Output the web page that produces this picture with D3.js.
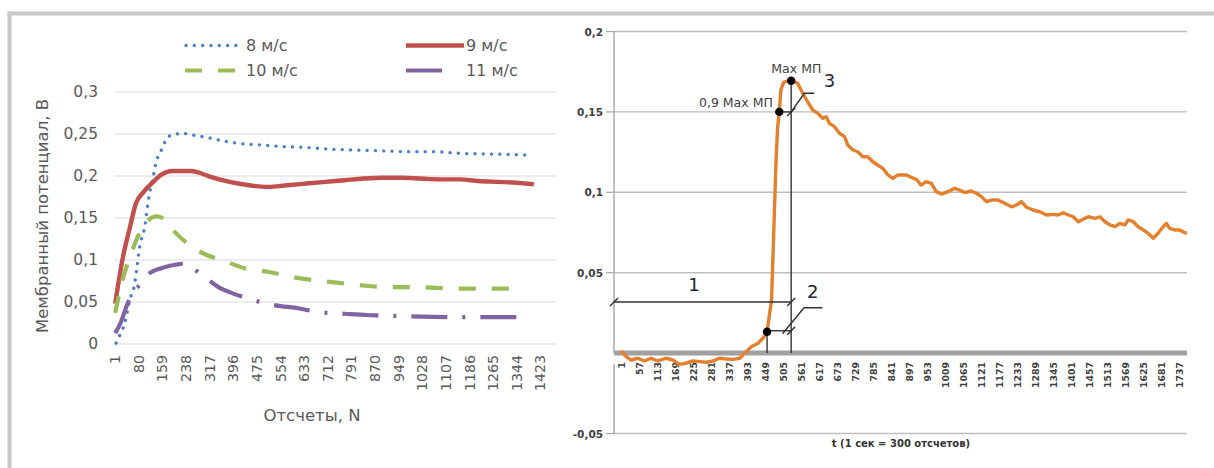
<!DOCTYPE html>
<html><head><meta charset="utf-8">
<script src="https://cdn.jsdelivr.net/npm/d3@7"></script>
<style>html,body{margin:0;padding:0;background:#fff;}svg{display:block;}</style>
</head><body>
<script>
// ---------- Left chart data ----------
const leftXTicks = [1,80,159,238,317,396,475,554,633,712,791,870,949,1028,1107,1186,1265,1344,1423];
const leftYTicks = [0,0.05,0.1,0.15,0.2,0.25,0.3];
const s8N  = [4,12,23,33,51,64,74,83,100,112,128,140,153,164,179,198,224,256,307,358,409,486,563,640,716,793,896,972,1062,1152,1280,1382];
const s8V  = [0.001,0.0075,0.015,0.025,0.054,0.068,0.092,0.116,0.14,0.171,0.199,0.219,0.229,0.238,0.247,0.249,0.251,0.249,0.246,0.242,0.239,0.237,0.235,0.234,0.232,0.231,0.230,0.229,0.229,0.227,0.226,0.225];
const s9N  = [1,25,51,70,96,128,153,192,256,281,320,384,448,512,576,640,704,768,832,896,959,1024,1088,1152,1216,1280,1344,1401];
const s9V  = [0.048,0.1,0.14,0.167,0.181,0.193,0.201,0.206,0.206,0.204,0.199,0.193,0.189,0.187,0.189,0.191,0.193,0.195,0.197,0.198,0.198,0.197,0.196,0.196,0.194,0.193,0.192,0.19];
const s10N = [1,25,51,77,102,140,159,204,256,307,358,435,512,589,665,742,819,896,1024,1152,1369];
const s10V = [0.037,0.076,0.104,0.128,0.144,0.152,0.15,0.132,0.116,0.106,0.1,0.09,0.086,0.08,0.076,0.073,0.07,0.068,0.0675,0.066,0.066];
const s11N = [1,19,38,57,89,115,153,198,236,269,307,345,396,448,486,537,614,678,768,844,896,1024,1152,1363];
const s11V = [0.013,0.025,0.044,0.06,0.072,0.084,0.09,0.094,0.096,0.088,0.078,0.068,0.06,0.054,0.05,0.046,0.0425,0.038,0.036,0.0345,0.034,0.0325,0.032,0.032];
const seriesNames = ["8 м/с","9 м/с","10 м/с","11 м/с"];
const leftYTitle = "Мембранный потенциал, В";
const leftXTitle = "Отсчеты, N";

// ---------- Right chart data ----------
const rightXTicks = [1,57,113,169,225,281,337,393,449,505,561,617,673,729,785,841,897,953,1009,1065,1121,1177,1233,1289,1345,1401,1457,1513,1569,1625,1681,1737];
const rightYTicks = [-0.05,0.05,0.1,0.15,0.2];
const mpN = [1,17,32,53,74,94,115,141,162,183,203,224,245,266,287,307,328,349,370,390,406,427,442,455,469,478,483,488,493,498,506,519,530,550,566,581,597,613,628,639,649,665,680,696,706,722,737,753,768,784,799,815,831,846,862,888,903,919,934,950,966,981,997,1018,1038,1054,1070,1090,1106,1122,1137,1153,1173,1194,1215,1231,1246,1262,1282,1303,1324,1345,1360,1376,1392,1407,1423,1438,1454,1475,1490,1506,1521,1537,1552,1568,1578,1594,1609,1625,1640,1656,1671,1687,1697,1707,1723,1738,1754,1761];
const mpV = [0.0013,-0.0022,-0.0043,-0.0032,-0.0049,-0.0032,-0.0049,-0.0032,-0.0043,-0.007,-0.0063,-0.0049,-0.0053,-0.0057,-0.0049,-0.0032,-0.0037,-0.0039,-0.0032,0.0009,0.004,0.0061,0.0092,0.0133,0.033,0.089,0.12,0.1408,0.1498,0.1636,0.1682,0.1694,0.1694,0.1678,0.1616,0.1563,0.1512,0.1491,0.146,0.147,0.1429,0.1408,0.1367,0.1346,0.1294,0.1263,0.1252,0.1221,0.1221,0.119,0.117,0.1149,0.1108,0.1087,0.1108,0.1108,0.1093,0.1081,0.1045,0.1066,0.1056,0.1004,0.0989,0.1004,0.1025,0.1014,0.0998,0.1008,0.0994,0.0973,0.0942,0.0952,0.0952,0.0932,0.091,0.0921,0.0942,0.0907,0.089,0.0879,0.0859,0.0863,0.0859,0.0873,0.0859,0.0848,0.0817,0.0832,0.0848,0.0838,0.0848,0.0817,0.0797,0.0786,0.0807,0.0797,0.0828,0.0817,0.0786,0.0766,0.0745,0.0714,0.0745,0.0786,0.0807,0.0776,0.0766,0.0766,0.0749,0.0745];
const rightXTitle = "t (1 сек = 300 отсчетов)";
// annotation points [N, value]
const ptMax = [530,0.1694];
const pt09 = [493,0.15];
const ptStart = [455,0.0133];
const dim1 = [[-21,0.0318],[530,0.0318]];
const dim2 = [[455,0.0139],[530,0.0139]];
const lead3 = [[530,0.15],[571,0.1616],[602,0.1616]];
const lead2 = [[503,0.012],[570,0.0282],[627,0.0282]];
const annLabels = [
  {t:"Max МП", n:546, v:0.1773, anchor:"middle", size:12.5},
  {t:"0,9 Max МП", n:473, v:0.1557, anchor:"end", size:12.5},
  {t:"3", n:649, v:0.1698, anchor:"middle", size:18},
  {t:"1", n:228, v:0.0424, anchor:"middle", size:18},
  {t:"2", n:597, v:0.0382, anchor:"middle", size:18}
];

const W = 1214, H = 468;
const FONT = "DejaVu Sans, Liberation Sans, sans-serif";
const fmt = v => String(+v.toFixed(3)).replace(".", ",");

const svg = d3.select("body").append("svg").attr("width", W).attr("height", H);
svg.append("rect").attr("width", W).attr("height", H).attr("fill", "#fff");
// frame
svg.append("rect").attr("x", 7.5).attr("y", 11.5).attr("width", W).attr("height", 4).attr("fill", "#C9C9C9");
svg.append("rect").attr("x", 7.5).attr("y", 11.5).attr("width", 4).attr("height", H).attr("fill", "#C9C9C9");

// ================= LEFT CHART =================
const xL = d3.scaleLinear().domain([-3, 1475]).range([114, 556]);
const yL = d3.scaleLinear().domain([0, 0.3]).range([344, 92]);
const gL = svg.append("g");
gL.selectAll("line.grid").data(leftYTicks).join("line")
  .attr("x1", xL.range()[0]).attr("x2", xL.range()[1])
  .attr("y1", d => yL(d)).attr("y2", d => yL(d))
  .attr("stroke", "#D9D9D9").attr("stroke-width", 1.2);
gL.selectAll("text.yt").data(leftYTicks).join("text")
  .attr("x", 98).attr("y", d => yL(d)).attr("text-anchor", "end").attr("dominant-baseline", "central")
  .attr("font-family", FONT).attr("font-size", 15.5).attr("fill", "#595959").text(d => fmt(d));
gL.selectAll("text.xt").data(leftXTicks).join("text")
  .attr("transform", d => `translate(${xL(d)},355) rotate(-90)`)
  .attr("text-anchor", "end").attr("dominant-baseline", "central")
  .attr("font-family", FONT).attr("font-size", 14.2).attr("fill", "#595959").text(d => d);
gL.append("text").attr("transform", "translate(42,216) rotate(-90)")
  .attr("text-anchor", "middle").attr("dominant-baseline", "central")
  .attr("font-family", FONT).attr("font-size", 16.5).attr("fill", "#595959").text(leftYTitle);
gL.append("text").attr("x", 312).attr("y", 415).attr("text-anchor", "middle").attr("dominant-baseline", "central")
  .attr("font-family", FONT).attr("font-size", 16.5).attr("fill", "#595959").text(leftXTitle);

const styles = [
  {c:"#4A7EC9", w:3.3, dash:"0.1,8.2", cap:"round"},
  {c:"#C0504D", w:4.4, dash:null, cap:"butt"},
  {c:"#9BBB59", w:4.2, dash:"17,16", cap:"butt"},
  {c:"#8064A2", w:4.2, dash:"36,15,3,15", cap:"butt"}
];
const leftSeries = [[s8N,s8V],[s9N,s9V],[s10N,s10V],[s11N,s11V]];
const lineL = d3.line().x(d => xL(d[0])).y(d => yL(d[1])).curve(d3.curveMonotoneX);
leftSeries.forEach((s, i) => {
  const pts = s[0].map((n, j) => [n, s[1][j]]);
  gL.append("path").datum(pts).attr("d", lineL).attr("fill", "none")
    .attr("stroke", styles[i].c).attr("stroke-width", styles[i].w)
    .attr("stroke-dasharray", styles[i].dash).attr("stroke-linecap", styles[i].cap)
    .attr("stroke-linejoin", "round");
});
// legend
const legPos = [{x:186, x2:236, y:45.5, tx:246},{x:406, x2:464, y:45.5, tx:466},{x:185, x2:236, y:70.5, tx:246},{x:406, x2:443, y:70.5, tx:466}];
seriesNames.forEach((name, i) => {
  const p = legPos[i];
  gL.append("line").attr("x1", p.x).attr("x2", p.x2).attr("y1", p.y).attr("y2", p.y)
    .attr("stroke", styles[i].c).attr("stroke-width", styles[i].w)
    .attr("stroke-dasharray", styles[i].dash).attr("stroke-linecap", styles[i].cap);
  gL.append("text").attr("x", p.tx).attr("y", p.y).attr("dominant-baseline", "central")
    .attr("font-family", FONT).attr("font-size", 16).attr("fill", "#595959").text(name);
});

// ================= RIGHT CHART =================
const xR = d3.scaleLinear().domain([-21, 1761]).range([614, 1187]);
const yR = d3.scaleLinear().domain([-0.05, 0.2]).range([433.5, 31.5]);
const gR = svg.append("g");
gR.selectAll("line.grid").data(rightYTicks).join("line")
  .attr("x1", xR.range()[0]).attr("x2", xR.range()[1])
  .attr("y1", d => yR(d)).attr("y2", d => yR(d))
  .attr("stroke", "#BDBDBD").attr("stroke-width", 1.4);
// y axis line (broken near label row)
gR.append("line").attr("x1", 614).attr("x2", 614).attr("y1", yR(0.2)).attr("y2", yR(0)).attr("stroke", "#A6A6A6").attr("stroke-width", 1.4);
gR.append("line").attr("x1", 614).attr("x2", 614).attr("y1", yR(0) + 11).attr("y2", yR(-0.05)).attr("stroke", "#A6A6A6").attr("stroke-width", 1.4);
gR.selectAll("line.tk").data(rightYTicks).join("line")
  .attr("x1", 606).attr("x2", 614).attr("y1", d => yR(d)).attr("y2", d => yR(d))
  .attr("stroke", "#A6A6A6").attr("stroke-width", 1.2);
gR.selectAll("text.yt").data(rightYTicks).join("text")
  .attr("x", 603).attr("y", d => yR(d)).attr("text-anchor", "end").attr("dominant-baseline", "central")
  .attr("font-family", FONT).attr("font-weight", "bold").attr("font-size", 10.5).attr("fill", "#404040").text(d => fmt(d));
// x axis thick line
gR.append("line").attr("x1", 614).attr("x2", 1187).attr("y1", yR(0)).attr("y2", yR(0))
  .attr("stroke", "#A0A0A0").attr("stroke-width", 5);
gR.selectAll("text.xt").data(rightXTicks).join("text")
  .attr("transform", d => `translate(${xR(d)},362) rotate(-90)`)
  .attr("text-anchor", "end").attr("dominant-baseline", "central")
  .attr("font-family", FONT).attr("font-weight", "bold").attr("font-size", 9.4).attr("fill", "#404040").text(d => d);
gR.append("text").attr("x", 901).attr("y", 443).attr("text-anchor", "middle").attr("dominant-baseline", "central")
  .attr("font-family", FONT).attr("font-weight", "bold").attr("font-size", 10).attr("fill", "#333").text(rightXTitle);

// orange series
const lineR = d3.line().x(d => xR(d[0])).y(d => yR(d[1]));
gR.append("path").datum(mpN.map((n, j) => [n, mpV[j]])).attr("d", lineR).attr("fill", "none")
  .attr("stroke", "#E3802E").attr("stroke-width", 3.4).attr("stroke-linejoin", "round");

// annotations
const ann = gR.append("g").attr("stroke", "#333").attr("stroke-width", 1.4).attr("fill", "none");
const seg = (a, b) => ann.append("line").attr("x1", xR(a[0])).attr("y1", yR(a[1])).attr("x2", xR(b[0])).attr("y2", yR(b[1]));
seg([ptMax[0], ptMax[1]], [ptMax[0], 0]);
seg([ptStart[0], ptStart[1]], [ptStart[0], 0]);
seg(dim1[0], dim1[1]);
seg(dim2[0], dim2[1]);
seg([pt09[0], pt09[1]], [ptMax[0], pt09[1]]);
const lineA = d3.line().x(d => xR(d[0])).y(d => yR(d[1]));
ann.append("path").attr("d", lineA(lead3));
ann.append("path").attr("d", lineA(lead2));
// slash ticks
[[dim1[0][0], dim1[0][1]], [dim1[1][0], dim1[1][1]], [dim2[1][0], dim2[1][1]], [ptMax[0], pt09[1]]].forEach(p => {
  ann.append("line").attr("x1", xR(p[0]) - 4).attr("y1", yR(p[1]) + 4).attr("x2", xR(p[0]) + 4).attr("y2", yR(p[1]) - 4);
});
gR.selectAll("circle.pt").data([ptMax, pt09, ptStart]).join("circle")
  .attr("cx", d => xR(d[0])).attr("cy", d => yR(d[1])).attr("r", 4.2).attr("fill", "#000");
annLabels.forEach(l => {
  gR.append("text").attr("x", xR(l.n)).attr("y", yR(l.v)).attr("text-anchor", l.anchor).attr("dominant-baseline", "central")
    .attr("font-family", FONT).attr("font-size", l.size).attr("fill", l.size > 15 ? "#1f2430" : "#404040").text(l.t);
});
</script>
</body></html>
